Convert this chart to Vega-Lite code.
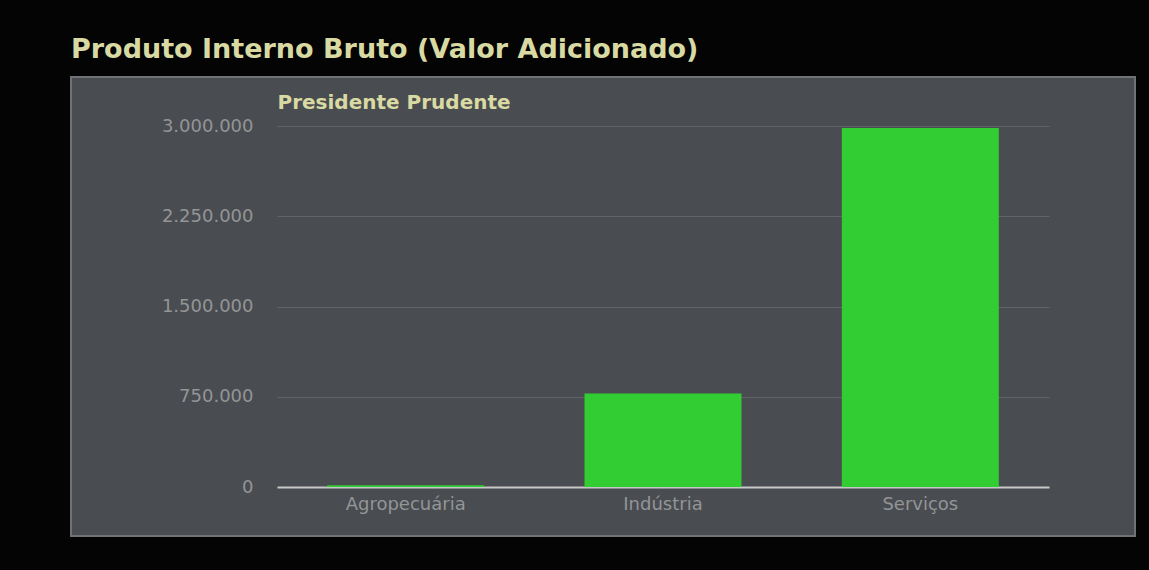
{
  "$schema": "https://vega.github.io/schema/vega-lite/v6.json",
  "width": 1064,
  "height": 459,
  "autosize": {"type": "none"},
  "padding": {"left": 71, "top": 77, "right": 14, "bottom": 34},
  "background": "#030403",
  "title": {
    "text": "Produto Interno Bruto (Valor Adicionado)",
    "anchor": "start",
    "font": "DejaVu Sans",
    "fontSize": 27,
    "fontWeight": "bold",
    "color": "#d9d9a3",
    "offset": 13
  },
  "config": {
    "locale": {"number": {"decimal": ",", "thousands": ".", "grouping": [3], "currency": ["R$", ""]}},
    "view": {"fill": "#494c50", "stroke": "#707275", "strokeWidth": 2}
  },
  "data": {
    "values": [
      {"setor": "Agropecuária", "valor": 15000},
      {"setor": "Indústria", "valor": 776000},
      {"setor": "Serviços", "valor": 2983000}
    ]
  },
  "mark": {"type": "bar", "color": "#32cd32"},
  "encoding": {
    "x": {
      "field": "setor",
      "type": "nominal",
      "sort": null,
      "scale": {"range": [206, 978], "paddingInner": 0.39, "paddingOuter": 0.195},
      "axis": {
        "title": null,
        "offset": -49,
        "domain": true,
        "domainColor": "#c8c8c8",
        "domainWidth": 2,
        "ticks": false,
        "tickSize": 0,
        "labelPadding": 8,
        "labelFont": "DejaVu Sans",
        "labelFontSize": 18,
        "labelColor": "#939597",
        "labelAngle": 0,
        "grid": false
      }
    },
    "y": {
      "field": "valor",
      "type": "quantitative",
      "scale": {"domain": [0, 3000000], "range": [410, 49], "nice": false},
      "axis": {
        "title": "Presidente Prudente",
        "titleAngle": 0,
        "titleX": 0,
        "titleY": 31,
        "titleAlign": "left",
        "titleBaseline": "alphabetic",
        "titleFont": "DejaVu Sans",
        "titleFontSize": 20,
        "titleFontWeight": "bold",
        "titleColor": "#d9d9a3",
        "offset": -206,
        "domain": false,
        "ticks": false,
        "tickSize": 0,
        "labelPadding": 24,
        "labelFont": "DejaVu Sans",
        "labelFontSize": 18,
        "labelColor": "#939597",
        "values": [0, 750000, 1500000, 2250000, 3000000],
        "format": ",d",
        "grid": true,
        "gridColor": "#606367",
        "gridWidth": 1
      }
    }
  }
}
